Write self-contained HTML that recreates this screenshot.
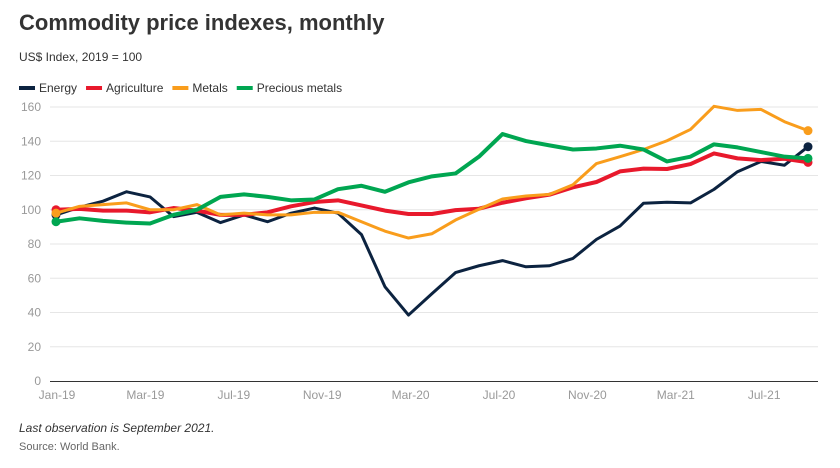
<!DOCTYPE html>
<html><head><meta charset="utf-8"><style>
body{margin:0;background:#fff;font-family:"Liberation Sans",sans-serif;}
#wrap{position:relative;width:840px;height:468px;overflow:hidden}
.t{position:absolute;white-space:nowrap}
</style></head><body>
<div id="wrap">
<div class="t" style="left:19px;top:10px;font-size:22px;font-weight:bold;color:#333">Commodity price indexes, monthly</div>
<div class="t" style="left:19px;top:50px;font-size:12px;color:#333">US$ Index, 2019 = 100</div>
<svg id="c" width="840" height="468" style="position:absolute;left:0;top:0"></svg>
<div class="t" style="left:19px;top:421px;font-size:12px;font-style:italic;color:#333">Last observation is September 2021.</div>
<div class="t" style="left:19px;top:441px;font-size:11px;color:#666">Source: World Bank.</div>
</div>
<script>
const tickLabels=["Jan-19","Mar-19","Jul-19","Nov-19","Mar-20","Jul-20","Nov-20","Mar-21","Jul-21"];
const yTicks=[0,20,40,60,80,100,120,140,160];
const energy=[97,101.5,105,110.5,107.5,96,98.5,92.5,97,93,98,101,98,85.5,55,38.5,51,63.3,67.3,70.3,66.7,67.3,71.6,82.7,90.5,103.8,104.4,104,111.9,122.2,128.2,126,136.8];
const agriculture=[100,100.5,99.5,99.5,98.5,101,99.5,97,97,98.5,102,104.5,105.5,102.5,99.5,97.5,97.5,99.8,100.6,104.1,106.7,108.8,113.1,116.2,122.4,124,123.8,126.7,132.9,130,129,129.8,127.7];
const metals=[98,102,103,104,100,100,103,97,98,97,97,98.5,98.5,93,87.5,83.5,86,94,100.3,106.3,108,109,114.6,127,131,135.2,140.3,146.9,160.4,158,158.6,151.4,146.2];
const precious=[93,95,93.5,92.5,92,97,100,107.5,109,107.5,105.5,106,112,114,110.5,116,119.5,121.2,131,144.2,140.1,137.6,135.2,135.8,137.4,135.2,128.2,131,138.2,136.4,133.7,131,130];
const names=["Energy","Agriculture","Metals","Precious metals"];
const colors=["#0c2340","#e8192c","#f99d1c","#00a651"];
const widths=[3,4,3,4];
const series=[energy,agriculture,metals,precious];
const NS="http://www.w3.org/2000/svg",svg=document.getElementById('c');
const x0=56,x1=808,y0=381,y1=107;
const n=energy.length;
const X=i=>x0+(x1-x0)*i/(n-1);
const Y=v=>y0-(y0-y1)*v/160;
function mk(t,a){const e=document.createElementNS(NS,t);for(const k in a)e.setAttribute(k,a[k]);svg.appendChild(e);return e;}
yTicks.forEach(v=>{
 if(v>0){const g=mk('line',{x1:50,x2:818,y1:Y(v),y2:Y(v),stroke:'#e6e6e6','stroke-width':1});
 
 }
 const t=mk('text',{x:41,y:Y(v)+4,'text-anchor':'end','font-size':12,fill:'#999','font-family':'Liberation Sans'});t.textContent=v;
 
 
});
const ax=mk('line',{x1:50,x2:818,y1:y0+0.5,y2:y0+0.5,stroke:'#333','stroke-width':1});


tickLabels.forEach((l,i)=>{
 const t=mk('text',{x:57+i*88.4,y:399,'text-anchor':'middle','font-size':12,fill:'#999','font-family':'Liberation Sans'});t.textContent=l;
 
 
});
series.forEach((s,k)=>{
 const p=mk('polyline',{points:s.map((v,i)=>X(i)+','+Y(v)).join(' '),fill:'none',stroke:colors[k],'stroke-width':widths[k],'stroke-linejoin':'round'});
 
 
 [0,n-1].forEach(i=>{const c=mk('circle',{cx:X(i),cy:Y(s[i]),r:4.5,fill:colors[k]});
 
 });
});
let lx=19;
names.forEach((nm,k)=>{
 const l=mk('line',{x1:lx,x2:lx+16,y1:88,y2:88,stroke:colors[k],'stroke-width':4});
 
 
 const t=mk('text',{x:lx+20,y:92,'font-size':12,fill:'#333','font-family':'Liberation Sans'});t.textContent=nm;
 
 
 lx+=20+t.getComputedTextLength()+9;
});
</script>
</body></html>
